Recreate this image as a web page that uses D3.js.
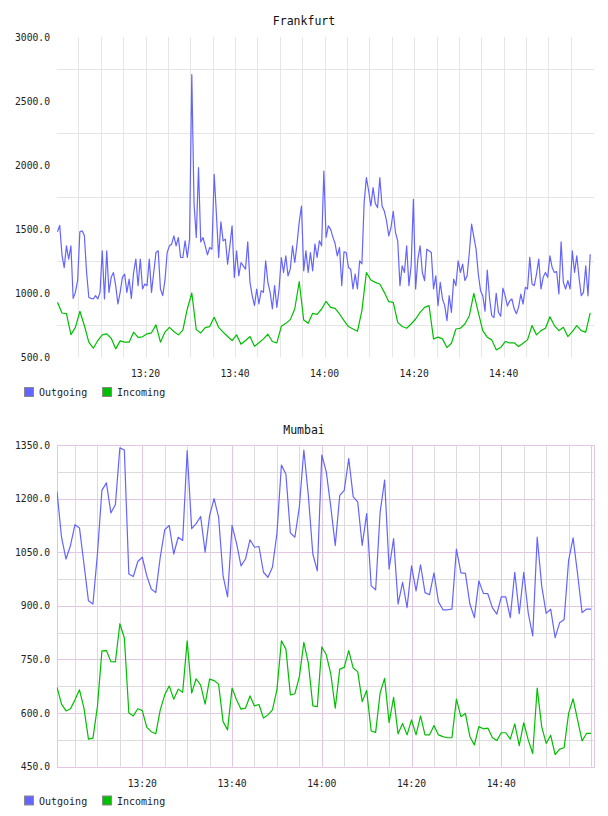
<!DOCTYPE html>
<html>
<head>
<meta charset="utf-8">
<script src="https://cdn.jsdelivr.net/npm/d3@7"></script>
<style>
  body { margin: 0; background: #fff; }
  text { font-family: "DejaVu Sans Mono", "Liberation Mono", monospace; fill: #222; }
</style>
</head>
<body>
<div id="chart"></div>
<script>
// Frankfurt outgoing, one value every 30 s from 13:00:20
const frankfurtOut = [
  1480,1530,1300,1200,1370,1266,1370,960,1007,1100,
  1480,1487,1450,1162,967,960,955,981,955,1007,
  1331,955,1331,1007,1124,1162,1059,916,1007,1124,
  1149,1007,1110,960,1162,1266,1059,1266,1033,1072,
  1059,1266,1007,1162,1318,1331,1033,981,1098,1318,
  1370,1383,1448,1370,1435,1279,1279,1409,1279,1422,
  2706,1700,1435,1980,1400,1435,1370,1300,1357,1344,
  1928,1616,1279,1557,1409,1422,1227,1370,1526,1124,
  1331,1136,1240,1214,1188,1401,1085,981,903,1033,
  916,1020,1007,1253,1085,1007,877,1059,890,1033,
  1279,1162,1292,1136,1188,1370,1240,1383,1557,1681,
  1175,1331,1162,1318,1175,1383,1279,1409,1370,1954,
  1435,1526,1500,1440,1390,1292,1357,1059,1323,1318,
  1201,1188,1033,1149,1033,1253,1230,1707,1902,1800,
  1681,1824,1700,1668,1902,1681,1642,1565,1448,1513,
  1640,1474,1409,1059,1214,1162,1370,1059,1214,1733,
  1033,1266,1370,1162,1098,1344,1331,1318,1033,1136,
  903,1085,955,903,786,981,851,1110,1059,1253,
  1162,1227,1100,1135,1318,1539,1440,1344,1150,1020,
  981,860,1180,967,825,810,1000,851,820,1040,
  981,900,940,955,880,840,890,994,915,1046,
  1033,1280,1072,1059,1150,1266,1033,1124,1162,1124,
  1292,1200,1162,1170,994,1401,1085,1033,1098,1033,
  1331,1162,1292,1124,981,1007,1214,980,1305
];
// Frankfurt incoming, one value per minute from 13:00:20
const frankfurtIn = [
  929,846,841,677,734,859,748,618,571,631,
  675,683,649,566,628,618,618,696,655,660,
  683,691,753,618,696,734,701,675,712,877,
  1002,716,690,732,740,812,734,696,662,631,
  675,602,631,662,587,613,644,680,623,613,
  742,765,794,877,1090,791,765,843,835,877,
  937,890,882,838,786,740,721,703,864,1162,
  1103,1085,1072,1007,934,929,773,740,727,760,
  799,851,890,903,644,657,644,576,610,721,
  727,760,825,999,851,708,657,636,558,576,
  623,613,613,584,610,636,748,675,708,727,
  817,748,708,734,662,701,748,708,696,846
];
// Mumbai, one value per minute from 13:01
const mumbaiOut = [
  1219,1092,1031,1069,1127,1118,1017,914,905,1045,
  1223,1244,1160,1183,1342,1336,989,982,1024,1036,
  984,947,937,1036,1113,1125,1045,1092,1083,1334,
  1116,1130,1150,1050,1153,1200,1148,984,925,1125,
  1075,1012,1031,1085,1064,1066,994,980,1008,1102,
  1294,1268,1104,1092,1177,1336,1209,1045,998,1322,
  1275,1177,1069,1209,1223,1312,1205,1191,1069,1158,
  956,945,1162,1252,1003,1088,905,966,895,1012,
  942,1015,937,931,992,911,889,889,891,1059,
  992,991,905,867,970,935,934,895,877,925,
  925,867,994,878,994,880,816,1092,956,879,
  891,811,853,862,1027,1090,989,881,891,891
];
const mumbaiIn = [
  672,625,606,612,637,665,614,527,530,618,
  774,775,744,743,850,810,601,592,612,607,
  560,548,542,609,651,676,639,667,658,802,
  656,696,678,625,695,691,681,576,553,670,
  637,611,614,648,620,624,586,595,609,665,
  802,779,651,654,702,798,740,620,618,785,
  763,710,614,723,728,775,726,716,632,663,
  550,546,657,697,573,644,542,571,539,581,
  539,592,539,539,565,539,534,531,531,639,
  590,599,534,511,562,556,558,532,523,545,
  545,527,570,509,573,525,487,670,562,515,
  538,484,499,503,599,640,581,522,543,543
];
const seriesNames = ["Outgoing", "Incoming"];
const seriesColors = ["#6464ff", "#00bf00"];
const fraYTicks = [500, 1000, 1500, 2000, 2500, 3000];
const fraYGrid = [750, 1250, 1750, 2250, 2750];
const mumYTicks = [450, 600, 750, 900, 1050, 1200, 1350];
const mumYGrid = [525, 675, 825, 975, 1125, 1275];

const day = (h, m, s) => new Date(2024, 0, 1, h, m, s || 0);
const fraOutTimes = frankfurtOut.map((d, i) => d3.timeSecond.offset(day(13, 0, 20), i * 30));
const fraInTimes = frankfurtIn.map((d, i) => d3.timeMinute.offset(day(13, 0, 20), i));
const mumTimes = mumbaiOut.map((d, i) => d3.timeMinute.offset(day(13, 1), i));

const svg = d3.select("#chart").append("svg")
  .attr("width", 608)
  .attr("height", 816);

function panel(o) {
  const g = svg.append("g");
  const x = d3.scaleTime().domain([day(13, 0), day(15, 0)]).range(o.xRange);
  const y = d3.scaleLinear().domain(o.yDomain).range([o.bottom, o.top]);
  const px = v => Math.round(v) + 0.5;

  // grid
  const fiveMin = x.ticks(d3.timeMinute.every(5))
    .filter(t => x(t) > o.left + 2 && x(t) < o.right - 2);
  const isMajor = t => t.getMinutes() % 20 === 0;

  g.selectAll(".hg").data(o.yGrid).join("line")
    .attr("x1", o.left).attr("x2", o.right)
    .attr("y1", d => px(y(d))).attr("y2", d => px(y(d)))
    .attr("stroke", o.minorColor);
  if (o.majorColor) {
    g.selectAll(".hm").data(o.yTicks).join("line")
      .attr("x1", o.left).attr("x2", o.right)
      .attr("y1", d => px(y(d))).attr("y2", d => px(y(d)))
      .attr("stroke", o.majorColor);
  }
  g.selectAll(".vg").data(fiveMin).join("line")
    .attr("x1", d => px(x(d))).attr("x2", d => px(x(d)))
    .attr("y1", o.top).attr("y2", o.bottom)
    .attr("stroke", d => (o.majorColor && isMajor(d)) ? o.majorColor : o.minorColor);
  if (o.majorColor) {
    g.append("rect")
      .attr("x", px(o.left)).attr("y", px(o.top))
      .attr("width", Math.round(o.right - o.left)).attr("height", Math.round(o.bottom - o.top))
      .attr("fill", "none").attr("stroke", o.majorColor);
  }

  // title
  g.append("text").attr("x", 304).attr("y", o.titleY)
    .attr("text-anchor", "middle").style("font-size", "11.5px").style("fill", "#111")
    .text(o.title);

  // y labels
  g.selectAll(".yl").data(o.yTicks).join("text")
    .attr("x", 50).attr("y", d => y(d) + 3.5)
    .attr("text-anchor", "end").style("font-size", "9.7px")
    .text(d => d.toFixed(1));

  // x labels
  const labelTimes = x.ticks(d3.timeMinute.every(20))
    .filter(t => x(t) > o.left + 10 && x(t) < o.right - 10);
  g.selectAll(".xl").data(labelTimes).join("text")
    .attr("x", d => x(d)).attr("y", o.bottom + 20)
    .attr("text-anchor", "middle").style("font-size", "9.7px")
    .text(d3.timeFormat("%H:%M"));

  // lines
  const clipId = "clip" + o.title;
  svg.append("clipPath").attr("id", clipId).append("rect")
    .attr("x", o.left).attr("y", o.top - 2)
    .attr("width", o.right - o.left).attr("height", o.bottom - o.top + 4);
  o.series.forEach((s, i) => {
    const line = d3.line().x((d, j) => x(s.times[j])).y(d => y(d));
    g.append("path").datum(s.values)
      .attr("clip-path", `url(#${clipId})`)
      .attr("fill", "none")
      .attr("stroke", seriesColors[i])
      .attr("stroke-width", 1.2)
      .attr("stroke-linejoin", "round")
      .attr("d", line);
  });

  // legend
  const lx = [24.5, 102.5];
  seriesNames.forEach((name, i) => {
    g.append("rect").attr("x", lx[i]).attr("y", o.legendY)
      .attr("width", 9).attr("height", 9)
      .attr("fill", seriesColors[i]).attr("stroke", "#8a8a8a");
    g.append("text").attr("x", lx[i] + 14.5).attr("y", o.legendY + 8.5)
      .style("font-size", "10px").text(name);
  });
}

panel({
  title: "Frankfurt", titleY: 24.5,
  left: 57, right: 594, top: 37, bottom: 357.3,
  xRange: [56.0, 593.2], yDomain: [500, 3000],
  yTicks: fraYTicks, yGrid: fraYGrid,
  minorColor: "#e6e6e6", majorColor: null,
  legendY: 387.5,
  series: [
    { values: frankfurtOut, times: fraOutTimes },
    { values: frankfurtIn, times: fraInTimes }
  ]
});

panel({
  title: "Mumbai", titleY: 433.5,
  left: 57, right: 593.5, top: 445, bottom: 766.7,
  xRange: [52.55, 591.05], yDomain: [450, 1350],
  yTicks: mumYTicks, yGrid: mumYGrid,
  minorColor: "#dcdcdc", majorColor: "#e2c6e2",
  legendY: 796,
  series: [
    { values: mumbaiOut, times: mumTimes },
    { values: mumbaiIn, times: mumTimes }
  ]
});
</script>
</body>
</html>
